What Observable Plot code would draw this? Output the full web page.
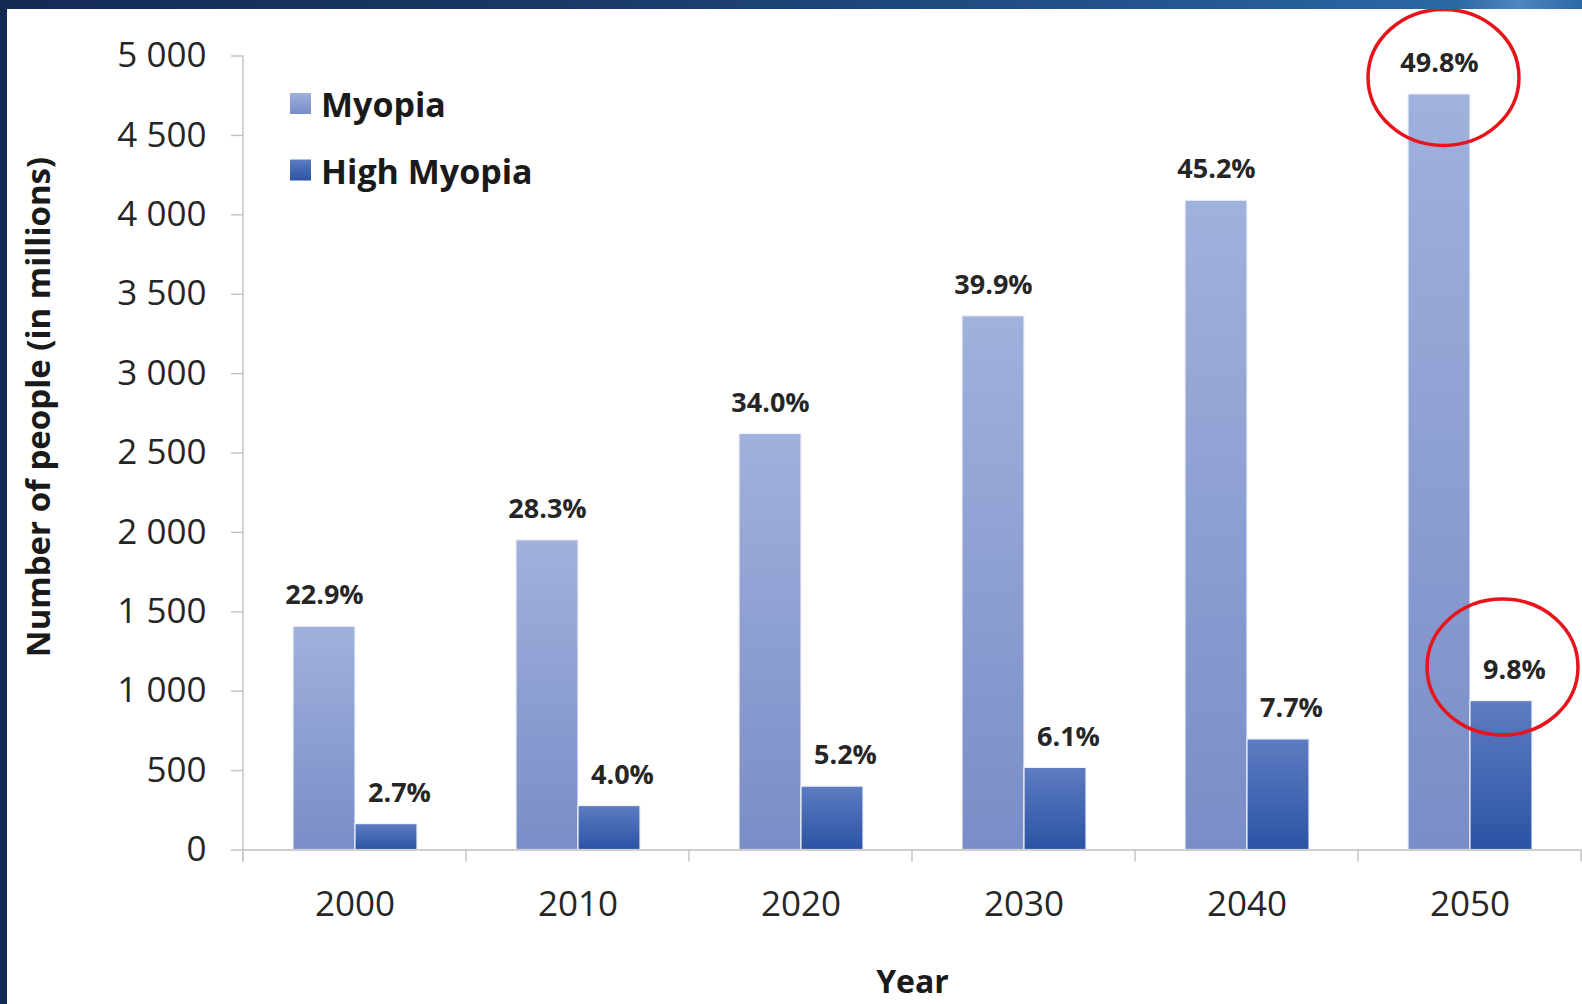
<!DOCTYPE html>
<html><head><meta charset="utf-8">
<script src="https://cdn.jsdelivr.net/npm/d3@7"></script>
<script src="https://cdn.jsdelivr.net/npm/@observablehq/plot@0.6"></script>
<style>
html,body{margin:0;padding:0;background:#fff;}
#page{position:relative;width:1582px;height:1004px;overflow:hidden;background:#fff;font-family:"Open Sans",sans-serif;}
#topband{position:absolute;left:0;top:0;width:1582px;height:9px;background:linear-gradient(90deg,#142b54 0%,#193866 35%,#22528b 70%,#2b68a6 92%,#4f86bd 96%,#2b68a6 100%);}
#leftband{position:absolute;left:0;top:0;width:7px;height:1004px;background:#132a52;}
#chart{position:absolute;left:7px;top:9px;}
</style></head><body>
<div id="page"><div id="chart"></div><div id="topband"></div><div id="leftband"></div></div>
<script>
const years = ["2000","2010","2020","2030","2040","2050"];
const series = ["Myopia","High Myopia"];
const myopia = [1406,1950,2620,3361,4089,4758];
const highMyopia = [163,277,399,517,696,938];
const myopiaPct = ["22.9%","28.3%","34.0%","39.9%","45.2%","49.8%"];
const highMyopiaPct = ["2.7%","4.0%","5.2%","6.1%","7.7%","9.8%"];
const yTicks = [0,500,1000,1500,2000,2500,3000,3500,4000,4500,5000];
const yTickLabels = ["0","500","1 000","1 500","2 000","2 500","3 000","3 500","4 000","4 500","5 000"];
const highlightYear = "2050";
const xTitle = "Year";
const yTitle = "Number of people (in millions)";

const rows = years.flatMap((yr, i) => [
  {year: yr, series: series[0], value: myopia[i], label: myopiaPct[i]},
  {year: yr, series: series[1], value: highMyopia[i], label: highMyopiaPct[i]}
]);
const rowsM = rows.filter(d => d.series === series[0]);
const rowsH = rows.filter(d => d.series === series[1]);
const hl = rows.filter(d => d.year === highlightYear);

const ellipseSymbol = {
  draw(ctx, size) {
    const r = Math.sqrt(size / Math.PI), rx = r * 1.11, ry = r, k = 0.5523;
    ctx.moveTo(rx, 0);
    ctx.bezierCurveTo(rx, ry * k, rx * k, ry, 0, ry);
    ctx.bezierCurveTo(-rx * k, ry, -rx, ry * k, -rx, 0);
    ctx.bezierCurveTo(-rx, -ry * k, -rx * k, -ry, 0, -ry);
    ctx.bezierCurveTo(rx * k, -ry, rx, -ry * k, rx, 0);
    ctx.closePath();
  }
};

const W = 1575, H = 995;
const chart = Plot.plot({
  width: W, height: H,
  marginLeft: 235, marginRight: 0, marginTop: 46.5, marginBottom: 154.5,
  facet: {marginTop: 0, marginRight: 0, marginBottom: 0, marginLeft: 0},
  style: {fontFamily: '"Open Sans", sans-serif', fontSize: "35px", color: "#262626", background: "transparent", overflow: "visible"},
  fx: {domain: years, padding: 0, label: null},
  x: {domain: series, paddingInner: 0, paddingOuter: 0.77, axis: null},
  y: {domain: [0, 5000], label: null},
  color: {domain: series, range: ["url(#gradMyopia)", "url(#gradHigh)"]},
  marks: [
    Plot.barY(rows, {fx: "year", x: "series", y: "value", fill: "series", stroke: "#eef1f8", strokeWidth: 1.2}),
    Plot.ruleY([0], {stroke: "#cfcfcf", strokeWidth: 2}),
    Plot.text(rowsM, {fx: "year", x: "series", y: "value", text: "label", dy: -31, fontSize: 27, fontWeight: "bold", fill: "#262626"}),
    Plot.text(rowsH, {fx: "year", x: "series", y: "value", text: "label", dx: 13, dy: -31, fontSize: 27, fontWeight: "bold", fill: "#262626"}),
    Plot.axisY({ticks: yTicks, tickFormat: d => yTickLabels[yTicks.indexOf(d)], tickSize: 12, tickPadding: 25, stroke: "#c4c4c4", strokeWidth: 1.5, fill: "#262626", label: null}),
    Plot.axisFx({anchor: "bottom", tickSize: 0, tickPadding: 41, fill: "#262626", label: null}),
    Plot.dot(hl.filter(d => d.series === series[0]), {fx: "year", x: "series", y: "value", dx: 4, dy: -17, r: 68, symbol: ellipseSymbol, stroke: "#e8141c", strokeWidth: 3.5, fill: "none"}),
    Plot.dot(hl.filter(d => d.series === series[1]), {fx: "year", x: "series", y: "value", dx: 1, dy: -34, r: 68, symbol: ellipseSymbol, stroke: "#e8141c", strokeWidth: 3.5, fill: "none"})
  ]
});
document.getElementById("chart").appendChild(chart);

const svg = d3.select(chart);
const defs = svg.insert("defs", ":first-child");
function grad(id, top, bottom) {
  const g = defs.append("linearGradient").attr("id", id).attr("x1", 0).attr("y1", 0).attr("x2", 0).attr("y2", 1);
  g.append("stop").attr("offset", "0%").attr("stop-color", top);
  g.append("stop").attr("offset", "100%").attr("stop-color", bottom);
}
grad("gradMyopia", "#a0b1dc", "#798dc7");
grad("gradHigh", "#5d7cc2", "#2b53a4");

const fx = chart.scale("fx"), y = chart.scale("y");
const y0 = y.apply(0), yTop = y.apply(5000);
const left = fx.apply(years[0]);
const bounds = years.map(yr => fx.apply(yr)).concat([fx.apply(years[years.length - 1]) + fx.bandwidth]);
const g = svg.append("g").attr("stroke", "#c4c4c4").attr("stroke-width", 1.5);
g.append("line").attr("x1", left).attr("x2", left).attr("y1", yTop).attr("y2", y0 + 12);
bounds.forEach(b => g.append("line").attr("x1", b).attr("x2", b).attr("y1", y0).attr("y2", y0 + 12));

// axis titles
svg.append("text").attr("x", (left + W) / 2).attr("y", 971).attr("text-anchor", "middle").attr("dominant-baseline", "central")
  .attr("font-size", 32).attr("font-weight", "bold").attr("fill", "#1a1a1a").text(xTitle);
svg.append("text").attr("transform", `translate(30,${398}) rotate(-90)`).attr("text-anchor", "middle")
  .attr("dominant-baseline", "central").attr("font-size", 33).attr("font-weight", "bold").attr("fill", "#1a1a1a").text(yTitle);

// legend
const lg = svg.append("g").attr("transform", "translate(283,0)").attr("text-anchor", "start");
series.forEach((s, i) => {
  const cy = 95 + i * 66.5;
  lg.append("rect").attr("x", 0).attr("y", cy - 11).attr("width", 21).attr("height", 21).attr("fill", i === 0 ? "url(#gradMyopia)" : "url(#gradHigh)");
  lg.append("text").attr("x", 31).attr("y", cy).attr("dominant-baseline", "central").attr("text-anchor", "start")
    .attr("font-size", 34).attr("font-weight", "bold").attr("fill", "#1a1a1a").text(s);
});
</script>
</body></html>
